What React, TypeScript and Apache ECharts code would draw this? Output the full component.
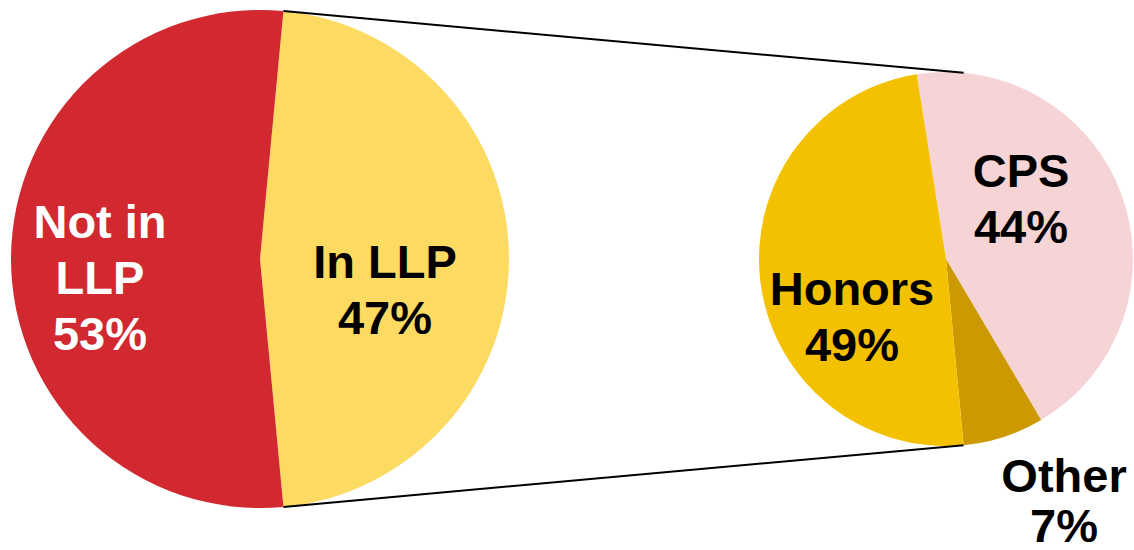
import React, { useEffect, useRef } from "react";
import * as echarts from "echarts";

// Main pie
const mainNames = ["In LLP", "Not in LLP"];
const mainLabels = ["In LLP", "Not in\nLLP"];
const mainValues = [47, 53];
const mainColors = ["#FDDB63", "#D2282F"];

// Breakdown of "In LLP"
const subNames = ["CPS", "Other", "Honors"];
const subLabels = ["CPS", "Other", "Honors"];
const subValues = [44, 7, 49];
const subColors = ["#F6D4D6", "#CC9A00", "#F4C100"];

// layout
const W = 1134;
const H = 550;
const C1 = [260, 259];
const R1 = 249;
const C2 = [946, 259];
const R2 = 187;
const A0 = 5.4; // clockwise degrees from 12 o'clock where "In LLP" begins

const mainLabelPos = [
  [385, 289],
  [100, 277],
];
const subLabelPos = [
  [1021, 198],
  [1064, 500],
  [852, 316],
];

function pt(c: number[], r: number, degCW: number) {
  const a = (degCW * Math.PI) / 180;
  return [c[0] + r * Math.sin(a), c[1] - r * Math.cos(a)];
}

export default function App() {
  const ref = useRef<HTMLDivElement>(null);
  useEffect(() => {
    if (!ref.current) return;
    const chart = echarts.init(ref.current, undefined, { renderer: "svg" });
    const mainTotal = mainValues.reduce((a, b) => a + b, 0);
    const subTotal = subValues.reduce((a, b) => a + b, 0);
    const a1 = A0 + (mainValues[0] / mainTotal) * 360;
    // right pie: "Other" ends at a1 (where the bottom connector meets)
    const subStartCW = a1 - ((subValues[0] + subValues[1]) / subTotal) * 360;

    const topL = pt(C1, R1, A0);
    const botL = pt(C1, R1, a1);
    const topR = pt(C2, R2, A0);
    const botR = pt(C2, R2, a1);

    const labelStyle = {
      fontFamily: "Liberation Sans, Arial, sans-serif",
      fontWeight: "bold" as const,
      fontSize: 47,
      lineHeight: 56,
      align: "center" as const,
    };

    chart.setOption({
      animation: false,
      backgroundColor: "#ffffff",
      series: [
        {
          type: "pie",
          center: C1,
          radius: [0, R1],
          startAngle: 90 - A0,
          clockwise: true,
          silent: true,
          label: {
            show: true,
            position: "inside",
            ...labelStyle,
            formatter: (p: any) => `${mainLabels[p.dataIndex]}\n${p.value}%`,
          },
          labelLine: { show: false },
          labelLayout: (p: any) => ({
            x: mainLabelPos[p.dataIndex][0],
            y: mainLabelPos[p.dataIndex][1],
            align: "center",
            verticalAlign: "middle",
          }),
          itemStyle: { borderWidth: 0 },
          data: mainNames.map((n, i) => ({
            name: n,
            value: mainValues[i],
            itemStyle: { color: mainColors[i] },
            label: { color: i === 1 ? "#ffffff" : "#000000" },
          })),
        },
        {
          type: "pie",
          center: C2,
          radius: [0, R2],
          startAngle: 90 - subStartCW,
          clockwise: true,
          silent: true,
          label: {
            show: true,
            position: "inside",
            ...labelStyle,
            color: "#000000",
            formatter: (p: any) => `${subLabels[p.dataIndex]}\n${p.value}%`,
          },
          labelLine: { show: false },
          labelLayout: (p: any) => ({
            x: subLabelPos[p.dataIndex][0],
            y: subLabelPos[p.dataIndex][1],
            align: "center",
            verticalAlign: "middle",
          }),
          itemStyle: { borderWidth: 0 },
          data: subNames.map((n, i) => ({
            name: n,
            value: subValues[i],
            itemStyle: { color: subColors[i] },
            label: i === 1 ? { lineHeight: 50 } : undefined,
          })),
        },
      ],
      graphic: [
        {
          type: "line",
          z: 100,
          shape: { x1: topL[0], y1: topL[1], x2: topR[0], y2: topR[1] },
          style: { stroke: "#000000", lineWidth: 2 },
        },
        {
          type: "line",
          z: 100,
          shape: { x1: botL[0], y1: botL[1], x2: botR[0], y2: botR[1] },
          style: { stroke: "#000000", lineWidth: 2 },
        },
      ],
    });
    return () => chart.dispose();
  }, []);
  return (
    <div
      ref={ref}
      style={{ position: "fixed", left: 0, top: 0, width: W, height: H }}
    />
  );
}
